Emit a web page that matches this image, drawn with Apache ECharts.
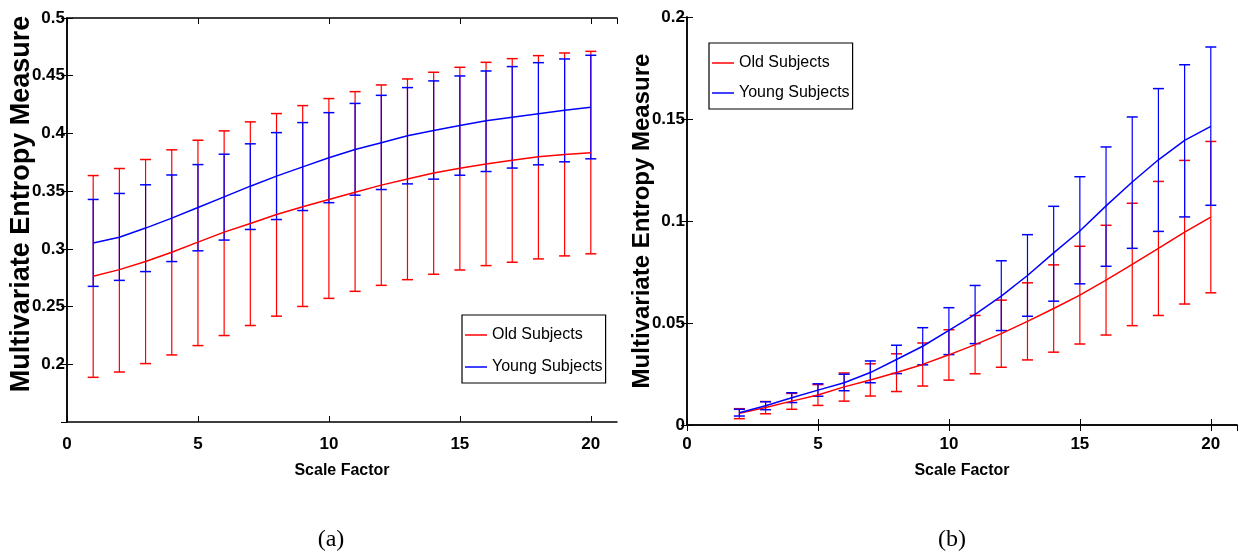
<!DOCTYPE html>
<html>
<head>
<meta charset="utf-8">
<script src="https://cdn.jsdelivr.net/npm/echarts@6/dist/echarts.min.js"></script>
<style>
html,body{margin:0;padding:0;background:#fff;}
#chart{width:1243px;height:554px;}
</style>
</head>
<body>
<div id="chart"></div>
<script>
// ---------- data: panel (a) ----------
const scaleA = [1,2,3,4,5,6,7,8,9,10,11,12,13,14,15,16,17,18,19,20];
const oldMeanA = [0.2762,0.282,0.289,0.297,0.3058,0.3145,0.322,0.3298,0.3364,0.3428,0.349,0.3552,0.3606,0.3658,0.3699,0.3736,0.3768,0.3797,0.3817,0.3832];
const oldHighA = [0.3635,0.3696,0.3774,0.3858,0.3941,0.4022,0.410,0.4172,0.4241,0.4302,0.4362,0.442,0.4472,0.453,0.4573,0.4616,0.4648,0.4674,0.4697,0.4711];
const oldLowA  = [0.1887,0.1933,0.2006,0.2081,0.2162,0.2249,0.2336,0.2417,0.2501,0.2571,0.2632,0.2684,0.2733,0.278,0.2817,0.2855,0.2884,0.2913,0.2939,0.2957];
const youngMeanA = [0.305,0.310,0.318,0.3266,0.3358,0.345,0.3543,0.363,0.371,0.379,0.386,0.392,0.398,0.4025,0.4068,0.411,0.414,0.417,0.420,0.4227];
const youngHighA = [0.3428,0.348,0.3555,0.364,0.373,0.382,0.391,0.4007,0.4094,0.418,0.426,0.433,0.4397,0.4455,0.4498,0.4541,0.4579,0.4613,0.4645,0.4677];
const youngLowA  = [0.2675,0.2727,0.2803,0.289,0.2983,0.3076,0.3168,0.3254,0.3332,0.340,0.3465,0.3514,0.3563,0.3604,0.3638,0.367,0.370,0.3728,0.3754,0.378];

// ---------- data: panel (b) ----------
const scaleB = [2,3,4,5,6,7,8,9,10,11,12,13,14,15,16,17,18,19,20];
const oldMeanB = [0.0057,0.0086,0.0117,0.0147,0.0187,0.0221,0.0257,0.0297,0.0344,0.0394,0.0448,0.0508,0.0571,0.0637,0.071,0.0787,0.0866,0.0945,0.1019];
const oldHighB = [0.008,0.0115,0.0155,0.0198,0.0255,0.030,0.0349,0.0402,0.0467,0.0537,0.0612,0.0697,0.0785,0.0876,0.0979,0.1087,0.1194,0.1297,0.139];
const oldLowB  = [0.0031,0.0055,0.0077,0.0096,0.0117,0.0142,0.0164,0.0191,0.022,0.0251,0.0283,0.0319,0.0357,0.0397,0.0441,0.0487,0.0537,0.0593,0.0648];
const youngMeanB = [0.006,0.0094,0.0134,0.0171,0.0207,0.0257,0.0321,0.0386,0.0464,0.0542,0.0632,0.0733,0.0844,0.0951,0.1074,0.1191,0.130,0.1395,0.1464];
const youngHighB = [0.0077,0.0114,0.0158,0.0202,0.0249,0.0314,0.0391,0.0477,0.0575,0.0684,0.0805,0.0933,0.1072,0.1217,0.1363,0.151,0.1649,0.1766,0.1853];
const youngLowB  = [0.0044,0.0075,0.0110,0.0141,0.0168,0.0207,0.0252,0.0295,0.0345,0.0399,0.0463,0.0533,0.0607,0.0692,0.0778,0.0866,0.0949,0.102,0.1077];

// ---------- labels ----------
const seriesNames = ['Old Subjects', 'Young Subjects'];
const xName = 'Scale Factor';
const yName = 'Multivariate Entropy Measure';
const captions = ['(a)', '(b)'];

const RED = '#ff0000', BLUE = '#0000ff';
const SANS = '"Liberation Sans", Arial, Helvetica, sans-serif';

function pairs(xs, ys) { return xs.map((x, i) => [x, ys[i]]); }
function triples(xs, lo, hi) { return xs.map((x, i) => [x, lo[i], hi[i]]); }

function errRender(color) {
  return function (params, api) {
    const x = api.value(0);
    const top = api.coord([x, api.value(2)]);
    const bot = api.coord([x, api.value(1)]);
    const hw = 5.5;
    return {
      type: 'group',
      children: [
        { type: 'line', shape: { x1: top[0], y1: top[1], x2: bot[0], y2: bot[1] }, style: { stroke: color, lineWidth: 1.2 } },
        { type: 'line', shape: { x1: top[0] - hw, y1: top[1], x2: top[0] + hw, y2: top[1] }, style: { stroke: color, lineWidth: 1.5 } },
        { type: 'line', shape: { x1: bot[0] - hw, y1: bot[1], x2: bot[0] + hw, y2: bot[1] }, style: { stroke: color, lineWidth: 1.5 } }
      ]
    };
  };
}

const axisLineStyle = { lineStyle: { color: '#000', width: 1.5 } };
const tickStyle = { inside: true, length: 6, lineStyle: { color: '#000', width: 1 } };
const tickLabel = { color: '#000', fontFamily: SANS, fontWeight: 'bold', fontSize: 17 };

function xAxes(grid, gap, margin) {
  return [
    {
      gridIndex: grid, type: 'value', min: 0, max: 21, interval: 5, position: 'bottom',
      axisLine: axisLineStyle, axisTick: tickStyle, splitLine: { show: false },
      axisLabel: Object.assign({ margin: margin, showMaxLabel: false }, tickLabel),
      name: xName, nameLocation: 'middle', nameGap: gap, nameMoveOverlap: false,
      nameTextStyle: { color: '#000', fontFamily: SANS, fontWeight: 'bold', fontSize: 16 }
    },
    {
      gridIndex: grid, type: 'value', min: 0, max: 21, interval: 5, position: 'top',
      axisLine: axisLineStyle, axisTick: tickStyle, splitLine: { show: false },
      axisLabel: { show: false }
    }
  ];
}

function yAxes(grid, min, max, showMin, gap, fs, pad) {
  return [
    {
      gridIndex: grid, type: 'value', min: min, max: max, interval: 0.05, position: 'left',
      axisLine: axisLineStyle, axisTick: tickStyle, splitLine: { show: false },
      axisLabel: Object.assign({ margin: 2, showMinLabel: showMin, showMaxLabel: true }, tickLabel),
      name: yName, nameLocation: 'middle', nameGap: gap, nameMoveOverlap: false,
      nameTextStyle: { color: '#000', fontFamily: SANS, fontWeight: 'bold', fontSize: fs, padding: pad }
    },
    {
      gridIndex: grid, type: 'value', min: min, max: max, interval: 0.05, position: 'right',
      axisLine: axisLineStyle, axisTick: tickStyle, splitLine: { show: false },
      axisLabel: { show: false }
    }
  ];
}

function lineSeries(name, xi, yi, data, color) {
  return {
    name: name, type: 'line', xAxisIndex: xi, yAxisIndex: yi, data: data,
    symbol: 'none', smooth: false, lineStyle: { color: color, width: 1.5 }, itemStyle: { color: color },
    animation: false, z: 3
  };
}
function errSeries(name, xi, yi, data, color) {
  return {
    name: name, type: 'custom', xAxisIndex: xi, yAxisIndex: yi, data: data,
    encode: { x: 0, y: [1, 2] }, renderItem: errRender(color), animation: false, z: 2
  };
}

function legend(left, top, gap) {
  return {
    data: seriesNames, orient: 'vertical', left: left, top: top,
    icon: 'rect', itemWidth: 22, itemHeight: 1.5, itemGap: gap,
    padding: [9, 3, 5, 3], borderColor: '#000', borderWidth: 1.2, borderRadius: 0,
    backgroundColor: '#fff', selectedMode: false,
    textStyle: { color: '#000', fontFamily: SANS, fontSize: 16, lineHeight: 22 }
  };
}

const chart = echarts.init(document.getElementById('chart'), null, { renderer: 'canvas' });
chart.setOption({
  animation: false,
  backgroundColor: '#fff',
  grid: [
    { left: 67, right: 626, top: 18, bottom: 132, containLabel: false, outerBoundsMode: 'none' },
    { left: 687, right: 6, top: 17, bottom: 129, containLabel: false, outerBoundsMode: 'none' }
  ],
  xAxis: xAxes(0, 41, 14).concat(xAxes(1, 38, 11)),
  yAxis: yAxes(0, 0.15, 0.5, false, 32, 27, [0, 0, 0, 32]).concat(yAxes(1, 0, 0.2, true, 33, 24, 0)),
  legend: [legend(462, 315, 10), legend(709, 43, 8)],
  series: [
    lineSeries(seriesNames[0], 0, 0, pairs(scaleA, oldMeanA), RED),
    lineSeries(seriesNames[1], 0, 0, pairs(scaleA, youngMeanA), BLUE),
    errSeries('Old Subjects error (a)', 0, 0, triples(scaleA, oldLowA, oldHighA), RED),
    errSeries('Young Subjects error (a)', 0, 0, triples(scaleA, youngLowA, youngHighA), BLUE),
    lineSeries(seriesNames[0], 2, 2, pairs(scaleB, oldMeanB), RED),
    lineSeries(seriesNames[1], 2, 2, pairs(scaleB, youngMeanB), BLUE),
    errSeries('Old Subjects error (b)', 2, 2, triples(scaleB, oldLowB, oldHighB), RED),
    errSeries('Young Subjects error (b)', 2, 2, triples(scaleB, youngLowB, youngHighB), BLUE)
  ],
  graphic: [
    { type: 'text', x: 331, y: 540, style: { text: captions[0], font: '24px "Liberation Serif", "Times New Roman", serif', fill: '#000', textAlign: 'center', textVerticalAlign: 'middle' } },
    { type: 'text', x: 952, y: 540, style: { text: captions[1], font: '24px "Liberation Serif", "Times New Roman", serif', fill: '#000', textAlign: 'center', textVerticalAlign: 'middle' } }
  ]
});
</script>
</body>
</html>
